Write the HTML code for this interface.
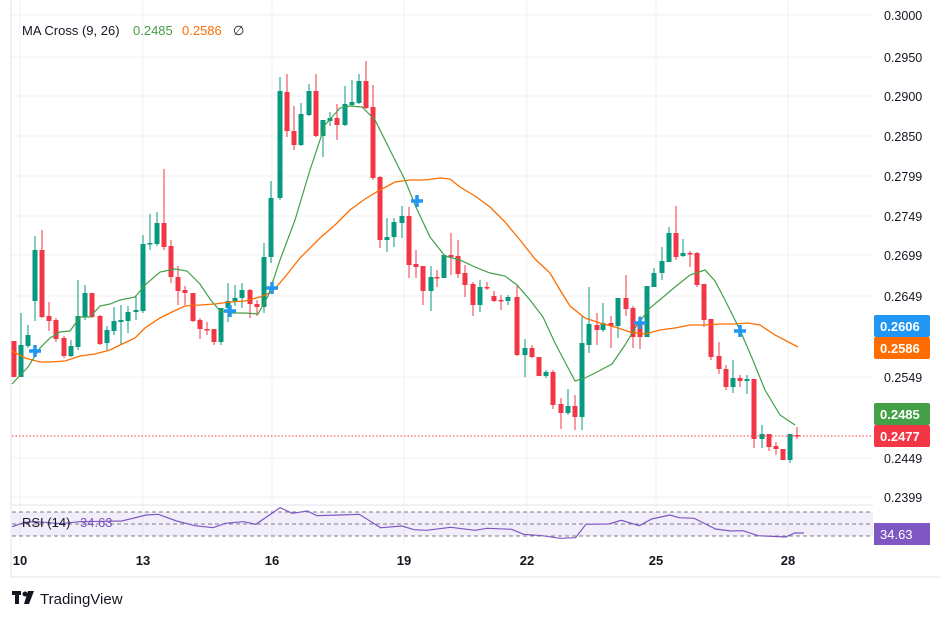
<!DOCTYPE html>
<html><head><meta charset="utf-8"><style>
body{margin:0;background:#fff;font-family:"Liberation Sans",sans-serif;}
svg text{font-family:"Liberation Sans",sans-serif;}
</style></head><body>
<svg id="s" width="950" height="619" xmlns="http://www.w3.org/2000/svg"></svg>
<script>
const s=document.getElementById('s');let h='';
// grids
const py=[[15,'0.3000'],[57,'0.2950'],[96,'0.2900'],[136,'0.2850'],[176,'0.2799'],[216,'0.2749'],[255,'0.2699'],[296,'0.2649'],[377,'0.2549'],[458,'0.2449'],[497,'0.2399']];
py.forEach(p=>{h+=`<line x1="12" x2="873" y1="${p[0]}" y2="${p[0]}" stroke="#f0f1f3"/>`;h+=`<text x="884" y="${p[0]+5}" font-size="12.5" fill="#131722">${p[1]}</text>`;});
[20,143,272,404,527,656,788].forEach(x=>h+=`<line x1="${x}" x2="${x}" y1="0" y2="545" stroke="#f0f1f3"/>`);
h+=`<line x1="11" x2="11" y1="0" y2="577" stroke="#e0e3eb"/><line x1="11" x2="940" y1="577" y2="577" stroke="#e0e3eb"/><line x1="11" x2="873" y1="505" y2="505" stroke="#e0e3eb"/>`;
// candles [x,open,close,high,low]
const c=[[14,341,377,341,377],[21,377,345,313,377],[28,346,335,325,348],[35,301,250,236,321],[42,250,317,230,318],[49,316,321,302,331],[56,320,339,318,342],[64,338,356,336,358],[71,356,346,340,357],[78,347,316,280,350],[85,317,293,285,320],[92,293,317,293,318],[100,316,344,315,345],[107,343,330,326,350],[114,331,321,307,335],[121,322,320,305,345],[128,321,312,306,333],[136,312,310,295,320],[143,311,244,235,313],[150,244,243,214,250],[157,244,223,212,246],[164,223,247,169,250],[171,246,277,240,283],[178,277,291,266,305],[185,290,293,286,305],[193,293,321,293,322],[200,320,329,318,339],[207,329,329,322,335],[214,329,342,329,345],[221,342,308,308,345],[228,308,301,283,322],[235,302,298,285,306],[242,298,290,283,308],[250,290,304,289,318],[257,304,307,300,316],[264,307,257,243,313],[271,257,198,181,263],[280,198,91,77,200],[287,92,131,74,137],[294,131,145,106,150],[301,145,114,103,146],[309,115,91,84,116],[316,91,136,74,137],[323,136,120,120,157],[330,121,118,112,126],[337,118,125,104,140],[345,125,104,86,126],[352,105,102,80,106],[359,103,81,74,104],[366,81,108,61,109],[373,107,178,85,180],[380,177,240,176,248],[387,240,237,218,252],[394,237,222,218,247],[402,223,216,206,238],[409,216,265,207,278],[416,264,267,250,278],[423,266,291,266,305],[431,291,277,266,311],[437,277,277,270,287],[444,278,255,255,278],[451,255,257,233,275],[458,256,274,240,278],[465,273,285,265,297],[473,284,305,282,316],[480,305,287,280,312],[487,287,287,282,290],[494,296,301,291,302],[501,300,301,295,310],[508,301,297,295,305],[517,297,355,286,356],[525,355,348,339,377],[532,348,357,345,358],[539,357,376,360,376],[546,376,372,370,378],[553,372,405,370,409],[561,404,413,398,429],[568,413,406,389,415],[575,406,417,395,430],[582,417,343,315,430],[589,345,324,287,353],[597,325,330,313,345],[603,330,323,303,332],[611,323,326,316,348],[618,326,298,298,338],[626,298,309,275,316],[633,308,337,306,348],[640,323,337,316,349],[647,337,286,286,337],[654,287,273,268,287],[662,273,261,247,280],[669,262,233,227,262],[676,233,257,206,260],[683,256,253,239,257],[690,253,253,251,267],[697,253,285,252,287],[704,284,320,284,327],[711,319,357,319,360],[719,356,369,342,374],[726,369,387,365,390],[733,387,378,360,393],[740,378,381,375,387],[747,381,379,375,394],[754,379,439,379,448],[762,439,434,425,448],[769,434,447,434,451],[776,446,449,442,455],[783,449,460,449,460],[790,460,434,434,463],[797,435,436,427,439]];
c.forEach(([x,o,cl,hi,lo])=>{const up=cl<o,col=up?'#089981':'#f23645';const t=Math.min(o,cl),b=Math.max(Math.max(o,cl),t+1.5);
h+=`<line x1="${x}" x2="${x}" y1="${Math.min(hi,t)}" y2="${Math.max(lo,b)}" stroke="${col}"/><rect x="${x-2.5}" y="${t}" width="5" height="${b-t}" fill="${col}"/>`;});
const pl=(a,col,w)=>`<polyline fill="none" stroke="${col}" stroke-width="${w}" points="${a.map(p=>p.join(',')).join(' ')}"/>`;
h+=pl([[12,351],[25,358],[40,362],[50,362],[65,361],[80,356],[95,354],[110,350],[120,345],[135,338],[145,328],[160,318],[172,312],[185,306],[200,305],[215,304],[230,302],[245,301],[260,297],[272,292],[285,277],[300,258],[320,238],[335,225],[350,210],[365,199],[380,190],[395,182],[410,180],[425,180],[440,178],[450,179],[460,187],[475,196],[490,207],[505,222],[520,240],[535,259],[550,273],[560,290],[570,306],[585,318],[600,323],[615,327],[630,332],[645,334],[660,330],[675,328],[690,325],[705,325],[720,324],[735,324],[748,323],[760,325],[775,335],[798,347]],'#ff6d00',1.3);
h+=pl([[12,384],[28,367],[40,348],[50,338],[60,332],[70,331],[80,317],[90,317],[100,306],[110,304],[120,300],[135,297],[145,285],[160,272],[175,269],[187,271],[200,284],[210,299],[220,311],[232,313],[245,313],[258,314],[268,296],[280,260],[295,220],[310,170],[325,125],[340,108],[350,106],[362,107],[375,120],[390,150],[405,180],[415,205],[430,237],[445,256],[460,260],[475,267],[490,273],[505,276],[517,285],[530,300],[543,317],[555,343],[565,362],[575,381],[585,378],[597,372],[612,364],[625,345],[637,325],[650,308],[662,298],[675,287],[690,275],[705,270],[715,281],[725,300],[740,330],[752,358],[765,390],[780,415],[795,425]],'#43a047',1.2);
[[35,351],[230,311],[272,288],[417,201],[640,323],[740,331]].forEach(([x,y])=>h+=`<path d="M${x-6} ${y}h12M${x} ${y-6}v12" stroke="#2196f3" stroke-width="3.5"/>`);
h+=`<line x1="12" x2="873" y1="436" y2="436" stroke="#f23645" stroke-dasharray="1.5 2"/>`;
// labels
[[326,'#2196f3','0.2606'],[348,'#ff6d00','0.2586'],[414,'#43a047','0.2485'],[436,'#f23645','0.2477']].forEach(([y,col,t])=>h+=`<rect x="874" y="${y-11}" width="56" height="22" rx="2" fill="${col}"/><text x="880" y="${y+5}" font-size="13" font-weight="bold" fill="#fff">${t}</text>`);
h+=`<text x="22" y="35" font-size="13" fill="#131722">MA Cross (9, 26)</text><text x="133" y="35" font-size="13" fill="#43a047">0.2485</text><text x="182" y="35" font-size="13" fill="#ff6d00">0.2586</text><text x="233" y="35" font-size="13" fill="#131722">∅</text>`;
// RSI
h+=`<rect x="12" y="512" width="861" height="24" fill="#7e57c2" opacity="0.1"/>`;
[512,524,536].forEach(y=>h+=`<line x1="12" x2="873" y1="${y}" y2="${y}" stroke="#787b86" stroke-dasharray="4 3"/>`);
const r=[[20,95],[40,82],[60,80],[100,86],[130,80],[200,78],[240,60],[260,58],[290,78],[320,92],[350,98],[370,85],[400,80],[420,88],[460,38],[480,55],[505,48],[520,62],[560,60],[590,58],[625,98],[660,93],[680,104],[700,106],[740,97],[780,106],[800,100],[840,103],[860,118],[890,122],[920,130],[945,128],[962,88],[1000,87],[1020,76],[1050,92],[1070,72],[1100,60],[1115,68],[1140,70],[1175,102],[1200,108],[1220,107],[1245,122],[1290,126],[1305,114],[1320,114]].map(([x,y])=>[(x*0.609).toFixed(1),(y/3+495).toFixed(1)]);
h+=pl(r,'#7e57c2',1.2);
h+=`<text x="22" y="527" font-size="13" fill="#131722">RSI (14)</text><text x="80" y="527" font-size="13" fill="#7e57c2">34.63</text>`;
h+=`<rect x="874" y="523" width="56" height="22" fill="#7e57c2"/><text x="880" y="539" font-size="13" fill="#fff">34.63</text>`;
[[20,'10'],[143,'13'],[272,'16'],[404,'19'],[527,'22'],[656,'25'],[788,'28']].forEach(([x,t])=>h+=`<text x="${x}" y="565" font-size="13" font-weight="bold" text-anchor="middle" fill="#131722">${t}</text>`);
h+=`<text x="13" y="605" font-size="17" font-weight="bold" fill="#131722">𝟏𝟕</text><rect x="12" y="591" width="9" height="4" fill="#131722"/><rect x="15" y="591" width="4" height="13" fill="#131722"/><circle cx="25" cy="594" r="2.5" fill="#131722"/><path d="M28 591h6l-5 13h-5z" fill="#131722"/>`;
h+=`<text x="40" y="604" font-size="15" fill="#131722">TradingView</text>`;
s.innerHTML=h.replace('<text x="13" y="605" font-size="17" font-weight="bold" fill="#131722">𝟏𝟕</text>','');
</script></body></html>
